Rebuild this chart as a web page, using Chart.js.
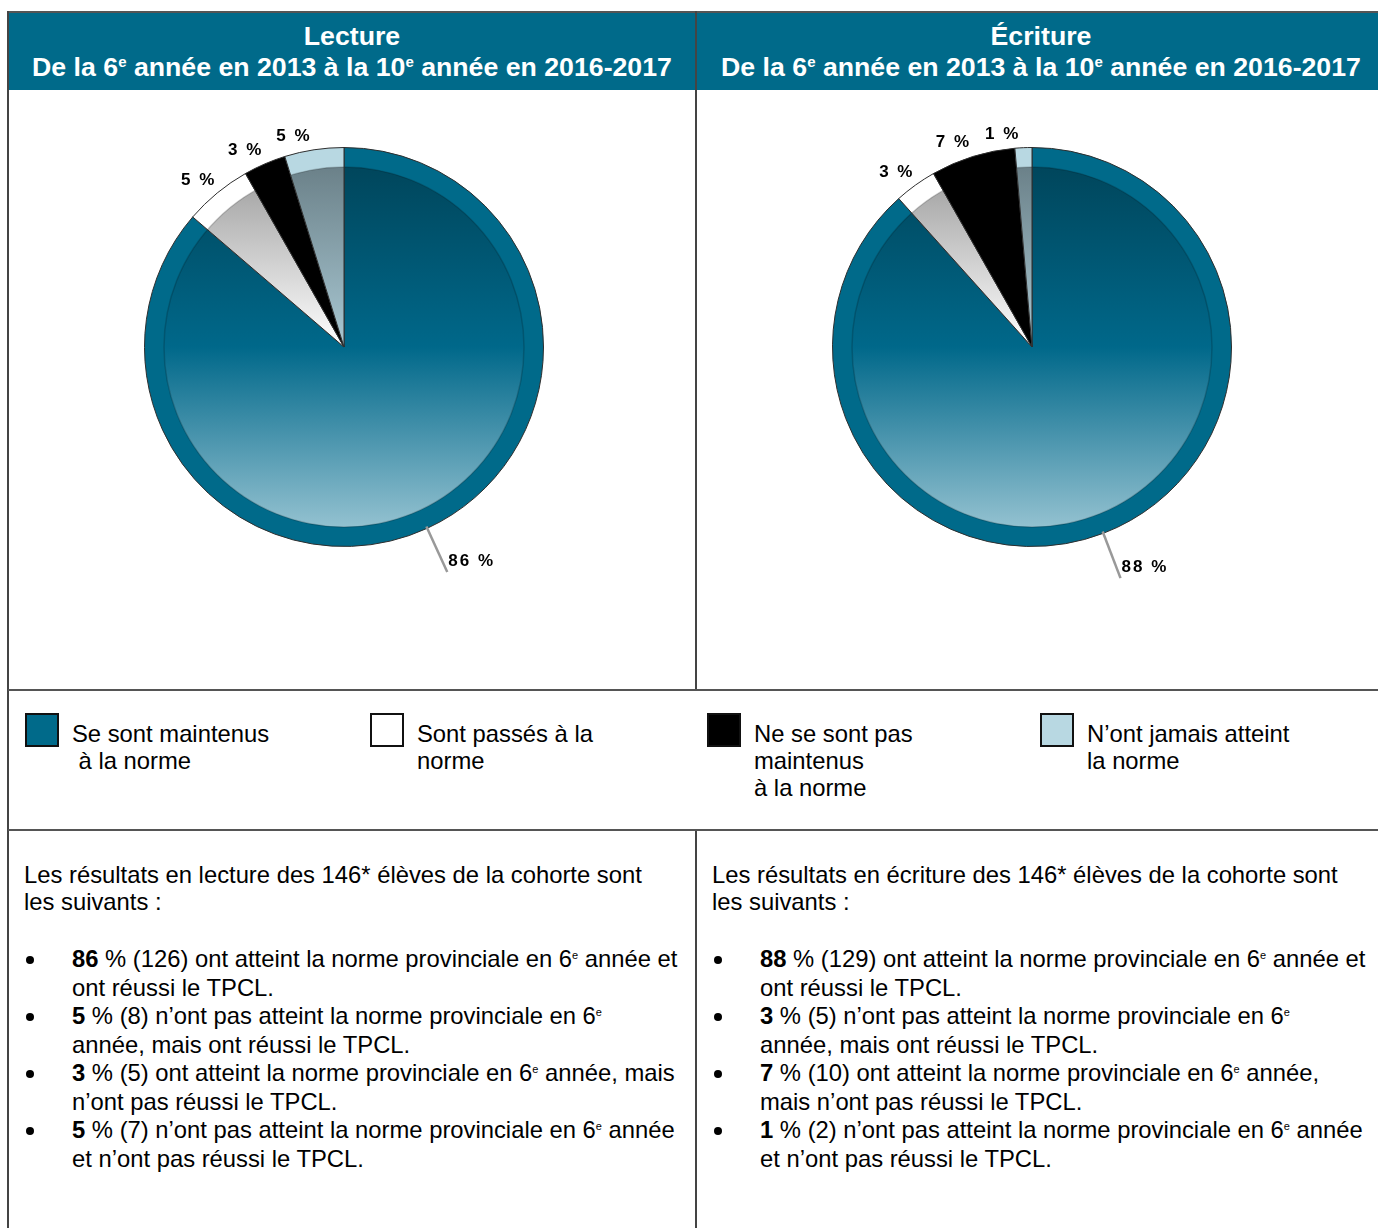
<!DOCTYPE html>
<html lang="fr">
<head>
<meta charset="utf-8">
<script src="https://cdn.jsdelivr.net/npm/chart.js@4.4.0/dist/chart.umd.min.js"></script>
<style>
  body { margin: 0; width: 1378px; height: 1228px; overflow: hidden; background: #fff;
         font-family: "Liberation Sans", Arial, sans-serif; color: #000; }
  .abs { position: absolute; }
  .hdr { background: #006a8a; top: 11px; height: 79px; border-top: 2px solid #555; box-sizing: border-box; }
  .hdr-txt { color: #fff; font-weight: bold; font-size: 26.7px; line-height: 31px; text-align: center;
             top: 21px; white-space: nowrap; }
  .hdr-txt sup { font-size: 15px; vertical-align: 9px; line-height: 0; }
  .vline { width: 2px; background: #444; }
  .hline { height: 2px; background: #555; left: 8px; width: 1380px; }
  .leg-box { width: 30px; height: 30px; border: 2px solid #111; }
  .leg-txt { font-size: 23.8px; line-height: 27px; white-space: pre; }
  .para { font-size: 23.8px; line-height: 27px; white-space: nowrap; }
  .items { font-size: 23.8px; line-height: 28.5px; white-space: nowrap; }
  .items div { position: relative; padding-left: 45px; }
  .items div::before { content: ""; position: absolute; left: -1px; top: 11px; width: 8px; height: 8px;
                       border-radius: 50%; background: #000; }
  .items sup { font-size: 11px; vertical-align: 8px; line-height: 0; }
</style>
</head>
<body>
<div id="page"></div>
<script>
// ---- data ----
const categories = ['Se sont maintenus\n à la norme', 'Sont passés à la\nnorme', 'Ne se sont pas\nmaintenus\nà la norme', 'N’ont jamais atteint\nla norme'];
const lectureCounts = [126, 8, 5, 7];
const ecritureCounts = [129, 5, 10, 2];
const totalStudents = 146;
const panelTitles = ['Lecture', 'Écriture'];
const subTitle = 'De la 6<sup>e</sup> année en 2013 à la 10<sup>e</sup> année en 2016-2017';

// ---- styles ----
const ringColors = ['#006a8a', '#ffffff', '#000000', '#b8d8e2'];
const innerStops = [
  ['#00465c', '#00688a', '#93c1d0'],
  ['#9c9c9c', '#ffffff', '#ffffff'],
  ['#000000', '#000000', '#111111'],
  ['#6b8189', '#a9c8d3', '#c4e0e9']
];
const legendX = [25, 370, 707, 1040];

const page = document.getElementById('page');
function el(cls, css, html) {
  const d = document.createElement('div');
  d.className = 'abs ' + cls;
  Object.assign(d.style, css);
  if (html !== undefined) d.innerHTML = html;
  page.appendChild(d);
  return d;
}
const pct = (v) => Math.round(v / totalStudents * 100);

// table frame
el('hdr', {left: '8px', width: '1380px'});
panelTitles.forEach((t, i) => {
  el('hdr-txt', {left: (8 + i * 689) + 'px', width: '688px'}, t + '<br>' + subTitle);
});
el('vline', {left: '7px', top: '11px', height: '1217px'});
el('vline', {left: '695px', top: '11px', height: '680px'});
el('vline', {left: '695px', top: '830px', height: '398px'});
el('hline', {top: '689px'});
el('hline', {top: '829px'});

// legend
categories.forEach((c, i) => {
  el('leg-box', {left: legendX[i] + 'px', top: '713px', background: ringColors[i]});
  el('leg-txt', {left: (legendX[i] + 47) + 'px', top: '720px'}, c.replace(/</g, '&lt;'));
});

// text blocks
function textBlock(x, subject, counts, lines3) {
  el('para', {left: x + 'px', top: '861px'},
    `Les résultats en ${subject} des ${totalStudents}* élèves de la cohorte sont<br>les suivants :`);
  const p = counts.map(pct);
  const items = [
    `<b>${p[0]}</b> % (${counts[0]}) ont atteint la norme provinciale en 6<sup>e</sup> année et<br>ont réussi le TPCL.`,
    `<b>${p[1]}</b> % (${counts[1]}) n’ont pas atteint la norme provinciale en 6<sup>e</sup><br>année, mais ont réussi le TPCL.`,
    `<b>${p[2]}</b> % (${counts[2]}) ont atteint la norme provinciale en 6<sup>e</sup>${lines3}`,
    `<b>${p[3]}</b> % (${counts[3]}) n’ont pas atteint la norme provinciale en 6<sup>e</sup> année<br>et n’ont pas réussi le TPCL.`
  ];
  el('items', {left: (x + 3) + 'px', top: '945px'}, items.map(s => `<div>${s}</div>`).join(''));
}
textBlock(24, 'lecture', lectureCounts, ' année, mais<br>n’ont pas réussi le TPCL.');
textBlock(712, 'écriture', ecritureCounts, ' année,<br>mais n’ont pas réussi le TPCL.');

// ---- pies ----
function getFill(chart, i) {
  const a = chart.chartArea;
  chart.$fills = chart.$fills || [];
  if (chart.$fills[i]) return chart.$fills[i];
  const off = document.createElement('canvas');
  off.width = chart.width; off.height = chart.height;
  const g = off.getContext('2d');
  const cx = (a.left + a.right) / 2, cy = (a.top + a.bottom) / 2;
  const R = Math.min(a.width, a.height) / 2 - 20;
  g.fillStyle = ringColors[i];
  g.fillRect(0, 0, off.width, off.height);
  const grad = g.createLinearGradient(0, cy - R, 0, cy + R);
  grad.addColorStop(0, innerStops[i][0]);
  grad.addColorStop(0.5, innerStops[i][1]);
  grad.addColorStop(1, innerStops[i][2]);
  g.beginPath(); g.arc(cx, cy, R, 0, Math.PI * 2); g.fillStyle = grad; g.fill();
  g.strokeStyle = 'rgba(0,0,0,0.18)'; g.lineWidth = 1.5; g.stroke();
  chart.$fills[i] = chart.ctx.createPattern(off, 'no-repeat');
  return chart.$fills[i];
}

const pieLabels = {
  id: 'pieLabels',
  afterDatasetsDraw(chart) {
    const ctx = chart.ctx;
    const arcs = chart.getDatasetMeta(0).data;
    const vals = chart.data.datasets[0].data;
    ctx.save();
    ctx.font = 'bold 17px "Liberation Sans", Arial, sans-serif';
    ctx.letterSpacing = '2px';
    ctx.fillStyle = '#000';
    ctx.textBaseline = 'middle';
    arcs.forEach((arc, i) => {
      const mid = (arc.startAngle + arc.endAngle) / 2;
      const dx = Math.cos(mid), dy = Math.sin(mid);
      const r = arc.outerRadius;
      const txt = pct(vals[i]) + ' %';
      if (i === 0) {
        ctx.strokeStyle = '#999'; ctx.lineWidth = 2.5;
        ctx.beginPath();
        ctx.moveTo(arc.x + dx * (r - 2), arc.y + dy * (r - 2));
        const ex = arc.x + dx * (r + 48), ey = arc.y + dy * (r + 48);
        ctx.lineTo(ex, ey); ctx.stroke();
        ctx.textAlign = 'left';
        ctx.fillText(txt, ex + 1, ey - 11);
      } else {
        const rr = r + 13 + 5 * Math.abs(dx);
        const px = arc.x + dx * rr, py = arc.y + dy * rr;
        ctx.textAlign = 'center';
        ctx.fillText(txt, px - 20 * (1 - Math.abs(dx)) - 1, py);
      }
    });
    ctx.restore();
  }
};

function makePie(left, padL, counts) {
  const wrap = el('', {left: left + 'px', top: '91px', width: '688px', height: '598px'});
  const cv = document.createElement('canvas');
  cv.width = 688; cv.height = 598;
  wrap.appendChild(cv);
  new Chart(cv, {
    type: 'pie',
    data: {
      labels: categories,
      datasets: [{
        data: counts,
        backgroundColor: (c) => c.chart.chartArea ? getFill(c.chart, c.dataIndex) : ringColors[c.dataIndex],
        borderColor: '#2e2e2e',
        borderWidth: 1
      }]
    },
    options: {
      responsive: false,
      animation: false,
      layout: {padding: {left: padL, right: 288 - padL, top: 56, bottom: 142}},
      plugins: {legend: {display: false}, tooltip: {enabled: false}}
    },
    plugins: [pieLabels]
  });
}
makePie(8, 136, lectureCounts);
makePie(697, 135, ecritureCounts);
</script>
</body>
</html>
